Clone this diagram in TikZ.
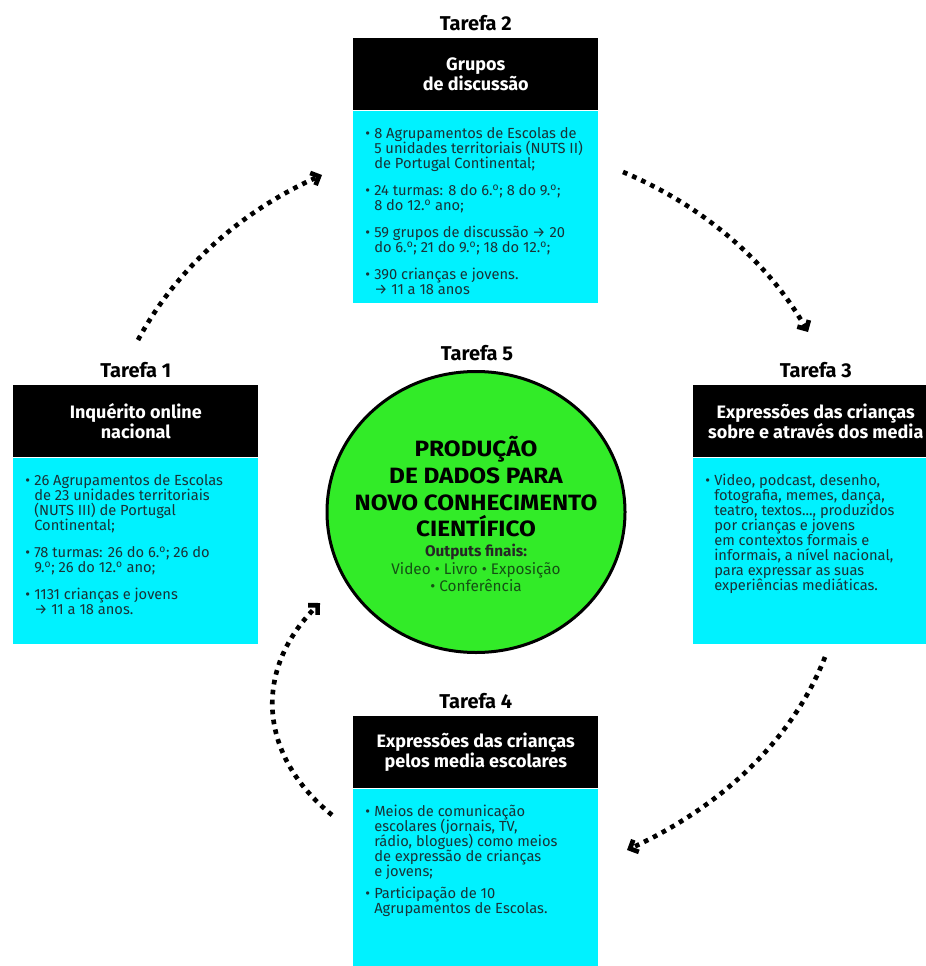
\documentclass[tikz,border=0pt]{standalone}
\usepackage{fontspec}
\setsansfont{Fira Sans}
\newfontfamily\titlefont{Fira Sans}[FakeStretch=1.1]
\usetikzlibrary{arrows.meta,shapes.geometric,positioning}

\definecolor{taskcyan}{RGB}{0,242,255}
\definecolor{taskgreen}{RGB}{50,235,40}
\definecolor{bodyink}{RGB}{25,50,55}
\definecolor{outink}{RGB}{20,80,20}

\newcommand{\bul}{\makebox[6.75pt][l]{•}}
\newcommand{\ind}{\hspace*{6.75pt}}
\newcommand{\ord}{\textsuperscript{o}}

\tikzset{
  tasklabel/.style={font=\sffamily\bfseries\fontsize{15}{17}\selectfont},
  taskhead/.style={anchor=north west, fill=black, text=white, minimum width=183.75pt,
    minimum height=54pt, inner sep=0pt, align=center,
    font=\sffamily\bfseries\fontsize{13.5}{15}\selectfont},
  taskbody/.style={anchor=north west, fill=taskcyan, minimum width=183.75pt, inner sep=0pt},
  bodytext/.style={anchor=north west, inner sep=0pt, text=bodyink, align=left,
    font=\sffamily\fontsize{11}{11.25}\selectfont},
  flow/.style={line width=3.5pt, dash pattern=on 3.5pt off 4pt,
    -{Straight Barb[sharp,length=5pt,width=10pt,line width=3.5pt]}}
}

\begin{document}
\setlength{\lineskiplimit}{-5pt}
\begin{tikzpicture}[x=0.75pt,y=-0.75pt,font=\sffamily]
  \useasboundingbox (0,0) rectangle (925,966);

  % the four task boxes
  \foreach \n/\x/\y/\bh/\title in {
      1/13/385/139.5pt/{Inquérito online\\nacional},
      2/353/38/144pt/{Grupos\\de discussão},
      3/693/385/139.5pt/{Expressões das crianças\\sobre e através dos media},
      4/353/716/142.5pt/{Expressões das crianças\\pelos media escolares}}{
    \node[taskhead] (head\n) at (\x,\y) {\title};
    \node[taskbody, minimum height=\bh] (body\n) at (head\n.south west) {};
    \node[tasklabel] (label\n) at ([yshift=11.5pt]head\n.north) {Tarefa \n};
  }

  \node[bodytext] (text1) at ([shift={(9pt,-12.5pt)}]body1.north west) {%
    \bul 26 Agrupamentos de Escolas\\
    \ind de 23 unidades territoriais\\
    \ind (NUTS III) de Portugal\\
    \ind Continental;\\[9pt]
    \bul 78 turmas: 26 do 6.\ord; 26 do\\
    \ind 9.\ord; 26 do 12.\ord\ ano;\\[9pt]
    \bul 1131 crianças e jovens\\
    \ind → 11 a 18 anos.};

  \node[bodytext] (text2) at ([shift={(9pt,-12.5pt)}]body2.north west) {%
    \bul 8 Agrupamentos de Escolas de\\
    \ind 5 unidades territoriais (NUTS II)\\
    \ind de Portugal Continental;\\[9pt]
    \bul 24 turmas: 8 do 6.\ord; 8 do 9.\ord;\\
    \ind 8 do 12.\ord\ ano;\\[9pt]
    \bul 59 grupos de discussão → 20\\
    \ind do 6.\ord; 21 do 9.\ord; 18 do 12.\ord;\\[9pt]
    \bul 390 crianças e jovens.\\
    \ind → 11 a 18 anos};

  \node[bodytext] (text3) at ([shift={(9pt,-12.5pt)}]body3.north west) {%
    \bul Video, podcast, desenho,\\
    \ind fotografia, memes, dança,\\
    \ind teatro, textos..., produzidos\\
    \ind por crianças e jovens\\
    \ind em contextos formais e\\
    \ind informais, a nível nacional,\\
    \ind para expressar as suas\\
    \ind experiências mediáticas.};

  \node[bodytext] (text4) at ([shift={(9pt,-12.5pt)}]body4.north west) {%
    \bul Meios de comunicação\\
    \ind escolares (jornais, TV,\\
    \ind rádio, blogues) como meios\\
    \ind de expressão de crianças\\
    \ind e jovens;\\[5pt]
    \bul Participação de 10\\
    \ind Agrupamentos de Escolas.};

  % central task
  \node[ellipse, draw=black, line width=2.25pt, fill=taskgreen, minimum width=223.5pt,
    minimum height=210.75pt, inner sep=0pt] (core) at (476,512) {};
  \node[tasklabel] (label5) at (477,353) {Tarefa 5};
  \node[align=center, font=\titlefont\bfseries\fontsize{16.6}{20}\selectfont] (coretitle)
    at (476,487) {PRODUÇÃO\\DE DADOS PARA\\NOVO CONHECIMENTO\\CIENTÍFICO};
  \node[align=center, text=outink, font=\sffamily\fontsize{11.5}{13.2}\selectfont] (coreout)
    at (476,568) {{\bfseries\color{black!85}Outputs finais:}\\Video • Livro • Exposição\\• Conferência};

  % cycle arrows
  \coordinate (a1s) at (138,340);
  \coordinate (a1e) at (322,175);
  \coordinate (a2s) at (623,172);
  \coordinate (a2e) at (808,332);
  \coordinate (a3s) at (825,657);
  \coordinate (a3e) at (627,850);
  \coordinate (a4s) at (332,815);
  \coordinate (a4e) at (320,603);
  \draw[flow] (a1s) .. controls (177.8,265.7) and (245,209.3) .. (a1e);
  \draw[flow] (a2s) .. controls (700,204.4) and (766.6,259.4) .. (a2e);
  \draw[flow] (a3s) .. controls (790.3,745.9) and (713.7,810.1) .. (a3e);
  \draw[flow] (a4s) .. controls (258.2,755.2) and (252.8,669.8) .. (a4e);
\end{tikzpicture}
\end{document}
